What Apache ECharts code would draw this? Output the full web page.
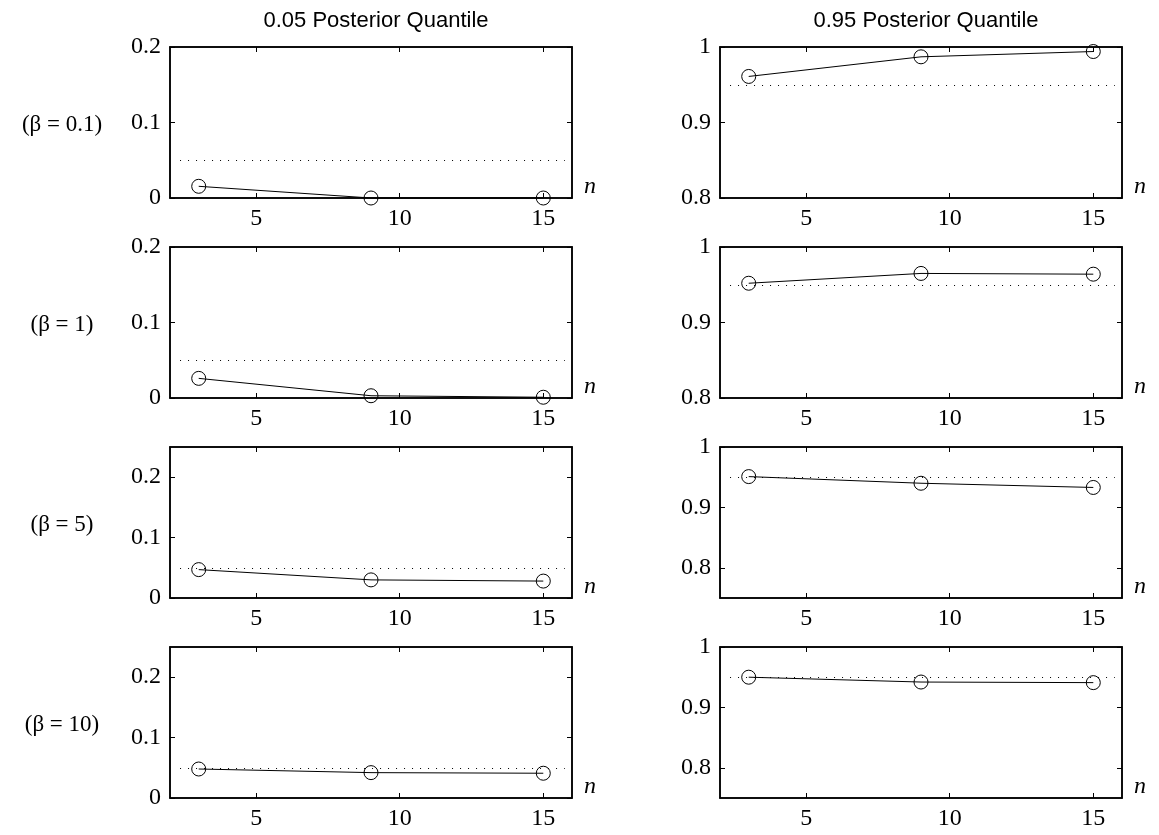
<!DOCTYPE html>
<html>
<head>
<meta charset="utf-8">
<script src="https://cdn.jsdelivr.net/npm/echarts@6/dist/echarts.min.js"></script>
<style>html,body{margin:0;padding:0;background:#fff}#c{width:1159px;height:835px}</style>
</head>
<body>
<div id="c"></div>
<script>
// ---- data ----
const nValues = [3, 9, 15];
const xTicks = [5, 10, 15];
const columnTitles = ['0.05 Posterior Quantile', '0.95 Posterior Quantile'];
const rowLabels = ['(\u03B2 = 0.1)', '(\u03B2 = 1)', '(\u03B2 = 5)', '(\u03B2 = 10)'];

const q05Beta01 = [0.0155, 0.0, 0.0];
const q05Beta1  = [0.026, 0.003, 0.001];
const q05Beta5  = [0.047, 0.030, 0.028];
const q05Beta10 = [0.048, 0.042, 0.041];

const q95Beta01 = [0.961, 0.987, 0.994];
const q95Beta1  = [0.952, 0.965, 0.964];
const q95Beta5  = [0.951, 0.940, 0.933];
const q95Beta10 = [0.950, 0.942, 0.941];

const refLow = 0.05;
const refHigh = 0.95;
const refSpan = [2.35, 15.75];

const yTicksLow = [0, 0.1, 0.2];
const yTicksHigh = [0.8, 0.9, 1];
const yRangeLowNarrow = [0, 0.2];
const yRangeLowWide = [0, 0.25];
const yRangeHighNarrow = [0.8, 1];
const yRangeHighWide = [0.75, 1];
const xRange = [2, 16];

// ---- layout ----
const lowSeries = [q05Beta01, q05Beta1, q05Beta5, q05Beta10];
const highSeries = [q95Beta01, q95Beta1, q95Beta5, q95Beta10];
const lowRanges = [yRangeLowNarrow, yRangeLowNarrow, yRangeLowWide, yRangeLowWide];
const highRanges = [yRangeHighNarrow, yRangeHighNarrow, yRangeHighWide, yRangeHighWide];

const colLeft = [170, 720];
const plotW = 402;
const rowTop = [47, 247, 447, 647];
const plotH = 151;
const serif = 'Liberation Serif';

const grids = [], xAxes = [], yAxes = [], series = [], titles = [];

for (let c = 0; c < 2; c++) {
  titles.push({
    text: columnTitles[c],
    left: colLeft[c] + plotW / 2, top: 5, textAlign: 'center',
    textStyle: {fontFamily: 'Liberation Sans', fontSize: 22, fontWeight: 'normal', color: '#000'}
  });
  for (let r = 0; r < 4; r++) {
    const gi = grids.length;
    grids.push({left: colLeft[c], top: rowTop[r], width: plotW, height: plotH,
      show: true, borderColor: '#000', borderWidth: 1.5, backgroundColor: '#fff'});
    const rng = c === 0 ? lowRanges[r] : highRanges[r];
    const yt = c === 0 ? yTicksLow : yTicksHigh;
    const tick = (vals) => ({show: true, inside: true, length: 5, customValues: vals, lineStyle: {color: '#000', width: 1}});
    // bottom x
    xAxes.push({type: 'value', gridIndex: gi, min: xRange[0], max: xRange[1], position: 'bottom',
      axisLine: {show: true, onZero: false, lineStyle: {color: '#000', width: 1.5}},
      axisTick: tick(xTicks), splitLine: {show: false},
      axisLabel: {customValues: xTicks, margin: 9, fontFamily: serif, fontSize: 24, color: '#000'},
      name: 'n', nameLocation: 'end', nameGap: 12,
      nameTextStyle: {fontFamily: serif, fontStyle: 'italic', fontSize: 24, color: '#000', verticalAlign: 'bottom', padding: [0,0,-1,0]}});
    // top x
    xAxes.push({type: 'value', gridIndex: gi, min: xRange[0], max: xRange[1], position: 'top',
      axisLine: {show: true, onZero: false, lineStyle: {color: '#000', width: 1.5}},
      axisTick: tick(xTicks), axisLabel: {show: false}, splitLine: {show: false}});
    // left y
    yAxes.push({type: 'value', gridIndex: gi, min: rng[0], max: rng[1], position: 'left',
      axisLine: {show: true, onZero: false, lineStyle: {color: '#000', width: 1.5}},
      axisTick: tick(yt), splitLine: {show: false},
      axisLabel: {customValues: yt, margin: 9, fontFamily: serif, fontSize: 24, color: '#000'}});
    // right y
    yAxes.push({type: 'value', gridIndex: gi, min: rng[0], max: rng[1], position: 'right',
      axisLine: {show: true, onZero: false, lineStyle: {color: '#000', width: 1.5}},
      axisTick: tick(yt), axisLabel: {show: false}, splitLine: {show: false}});

    const vals = c === 0 ? lowSeries[r] : highSeries[r];
    const ref = c === 0 ? refLow : refHigh;
    series.push({
      type: 'line', xAxisIndex: 2 * gi, yAxisIndex: 2 * gi,
      data: nValues.map((n, i) => [n, vals[i]]),
      symbol: 'circle', symbolSize: 14, showSymbol: true, clip: false,
      lineStyle: {color: '#000', width: 1},
      itemStyle: {color: 'rgba(0,0,0,0)', borderColor: '#000', borderWidth: 1},
      silent: true, animation: false,
      markLine: {silent: true, symbol: 'none', animation: false, label: {show: false},
        lineStyle: {color: '#000', width: 1, type: [1, 7]},
        data: [[{coord: [refSpan[0], ref]}, {coord: [refSpan[1], ref]}]]}
    });
    if (c === 0) {
      titles.push({
        text: rowLabels[r], left: 57, top: rowTop[r] + plotH / 2 - 14, textAlign: 'center',
        textStyle: {fontFamily: serif, fontSize: 23, fontWeight: 'normal', color: '#000'}
      });
    }
  }
}

const chart = echarts.init(document.getElementById('c'), null, {renderer: 'canvas'});
chart.setOption({
  animation: false,
  backgroundColor: '#fff',
  title: titles,
  grid: grids,
  xAxis: xAxes,
  yAxis: yAxes,
  series: series
});
</script>
</body>
</html>
